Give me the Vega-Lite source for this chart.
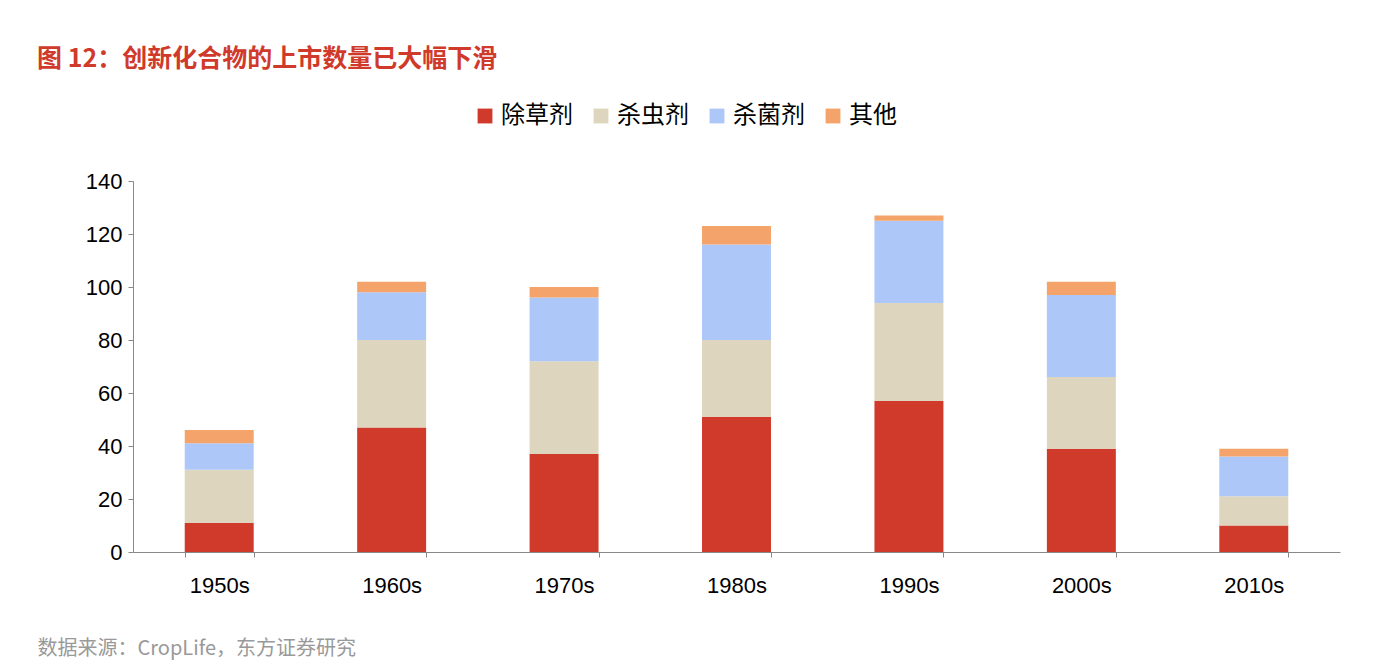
{
  "$schema": "https://vega.github.io/schema/vega-lite/v6.json",
  "width": 1207,
  "height": 371,
  "autosize": "none",
  "padding": {"left": 133, "top": 181, "right": 52, "bottom": 120},
  "background": "white",
  "config": {"view": {"stroke": null}, "font": "Noto Sans CJK SC"},
  "title": {
    "text": "图 12：创新化合物的上市数量已大幅下滑",
    "anchor": "start",
    "frame": "group",
    "orient": "top",
    "dx": -96,
    "offset": 32,
    "fontSize": 25,
    "fontWeight": "bold",
    "color": "#d03a2b"
  },
  "data": {
    "values": [
      {"decade": "1950s", "type": "除草剂", "k": 1, "v": 11},
      {"decade": "1950s", "type": "杀虫剂", "k": 2, "v": 20},
      {"decade": "1950s", "type": "杀菌剂", "k": 3, "v": 10},
      {"decade": "1950s", "type": "其他", "k": 4, "v": 5},
      {"decade": "1960s", "type": "除草剂", "k": 1, "v": 47},
      {"decade": "1960s", "type": "杀虫剂", "k": 2, "v": 33},
      {"decade": "1960s", "type": "杀菌剂", "k": 3, "v": 18},
      {"decade": "1960s", "type": "其他", "k": 4, "v": 4},
      {"decade": "1970s", "type": "除草剂", "k": 1, "v": 37},
      {"decade": "1970s", "type": "杀虫剂", "k": 2, "v": 35},
      {"decade": "1970s", "type": "杀菌剂", "k": 3, "v": 24},
      {"decade": "1970s", "type": "其他", "k": 4, "v": 4},
      {"decade": "1980s", "type": "除草剂", "k": 1, "v": 51},
      {"decade": "1980s", "type": "杀虫剂", "k": 2, "v": 29},
      {"decade": "1980s", "type": "杀菌剂", "k": 3, "v": 36},
      {"decade": "1980s", "type": "其他", "k": 4, "v": 7},
      {"decade": "1990s", "type": "除草剂", "k": 1, "v": 57},
      {"decade": "1990s", "type": "杀虫剂", "k": 2, "v": 37},
      {"decade": "1990s", "type": "杀菌剂", "k": 3, "v": 31},
      {"decade": "1990s", "type": "其他", "k": 4, "v": 2},
      {"decade": "2000s", "type": "除草剂", "k": 1, "v": 39},
      {"decade": "2000s", "type": "杀虫剂", "k": 2, "v": 27},
      {"decade": "2000s", "type": "杀菌剂", "k": 3, "v": 31},
      {"decade": "2000s", "type": "其他", "k": 4, "v": 5},
      {"decade": "2010s", "type": "除草剂", "k": 1, "v": 10},
      {"decade": "2010s", "type": "杀虫剂", "k": 2, "v": 11},
      {"decade": "2010s", "type": "杀菌剂", "k": 3, "v": 15},
      {"decade": "2010s", "type": "其他", "k": 4, "v": 3}
    ]
  },
  "mark": {"type": "bar"},
  "encoding": {
    "x": {
      "field": "decade",
      "type": "nominal",
      "scale": {"paddingInner": 0.6, "paddingOuter": 0.3},
      "axis": {
        "labelAngle": 0,
        "labelFontSize": 22,
        "labelFont": "Liberation Sans",
        "labelColor": "black",
        "labelPadding": 18,
        "tickBand": "extent",
        "tickColor": "#888",
        "domainColor": "#888",
        "title": "数据来源：CropLife，东方证券研究",
        "titleAnchor": "start",
        "titleX": -96,
        "titleY": 86,
        "titleFontSize": 20,
        "titleFontWeight": "normal",
        "titleColor": "#999"
      }
    },
    "y": {
      "field": "v",
      "type": "quantitative",
      "stack": "zero",
      "scale": {"domain": [0, 140]},
      "axis": {
        "values": [0, 20, 40, 60, 80, 100, 120, 140],
        "grid": false,
        "title": null,
        "labelFontSize": 22,
        "labelFont": "Liberation Sans",
        "labelColor": "black",
        "labelPadding": 6,
        "tickColor": "#888",
        "domainColor": "#888"
      }
    },
    "order": {"field": "k", "type": "quantitative"},
    "color": {
      "field": "type",
      "type": "nominal",
      "scale": {
        "domain": ["除草剂", "杀虫剂", "杀菌剂", "其他"],
        "range": ["#d03a2b", "#ddd5bd", "#adc8f8", "#f4a46a"]
      },
      "legend": {
        "orient": "none",
        "direction": "horizontal",
        "legendX": 340,
        "legendY": -77,
        "title": null,
        "symbolType": "square",
        "symbolSize": 220,
        "symbolStrokeWidth": 0,
        "labelFontSize": 24,
        "labelColor": "black",
        "columnPadding": 16
      }
    }
  }
}
